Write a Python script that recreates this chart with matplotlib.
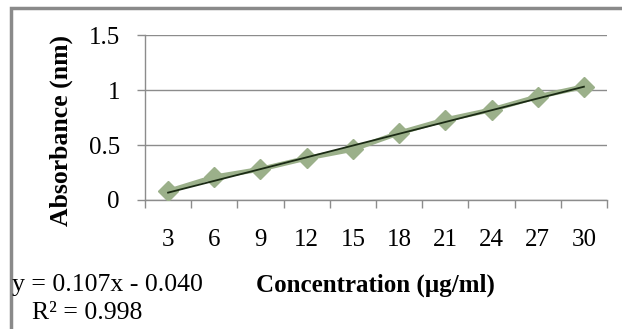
import matplotlib
matplotlib.use("Agg")
from matplotlib import pyplot as plt
from matplotlib.patches import Rectangle
import numpy as np

# calibration data
concentration = [3, 6, 9, 12, 15, 18, 21, 24, 27, 30]
absorbance = [0.08, 0.21, 0.28, 0.38, 0.46, 0.61, 0.73, 0.82, 0.94, 1.03]
slope = 0.107
intercept = -0.040
r_squared = 0.998
y_ticks = [0, 0.5, 1, 1.5]

plt.rcParams['font.family'] = ['Liberation Serif', 'DejaVu Serif']

fig = plt.figure(figsize=(6.22, 3.29), dpi=100)
fig.patch.set_facecolor('white')
ax = fig.add_axes([0.2331, 0.3921, 0.9759 - 0.2331, 0.8936 - 0.3921])

grid_col = '#8c8c8c'
idx = np.arange(1, len(concentration) + 1)

ax.plot(idx, absorbance, color='#9bb08a', lw=3.5, marker='D', ms=10,
        markerfacecolor='#9bb08a', markeredgecolor='#9bb08a', zorder=3)
trend = slope * idx + intercept
ax.plot(idx, trend, color='#1a2a14', lw=1.3, zorder=4)

ax.set_xlim(0.5, len(concentration) + 0.5)
ax.set_ylim(0, 1.5)
ax.set_yticks(y_ticks)
ax.set_yticklabels(['0', '0.5', '1', '1.5'])
ax.yaxis.grid(True, color=grid_col, lw=1)
ax.set_axisbelow(True)

ax.set_xticks(np.arange(0.5, len(concentration) + 1, 1))
ax.set_xticklabels([])
ax.set_xticks(idx, minor=True)
ax.set_xticklabels([str(c) for c in concentration], minor=True)
ax.tick_params(axis='x', which='major', length=6, color=grid_col, width=1)
ax.tick_params(axis='x', which='minor', length=0, pad=21, labelsize=18)
ax.tick_params(axis='y', length=6, color=grid_col, width=1, pad=12, labelsize=18)

for s in ['top', 'right']:
    ax.spines[s].set_visible(False)
for s in ['left', 'bottom']:
    ax.spines[s].set_color(grid_col)
    ax.spines[s].set_linewidth(1)

fig.text(0.604, 0.134, 'Concentration (\u00b5g/ml)', fontsize=18,
         fontweight='bold', ha='center', va='center')
fig.text(0.098, 0.602, 'Absorbance (nm)', fontsize=18.5, fontweight='bold',
         rotation=90, ha='center', va='center')
fig.text(0.02, 0.134, 'y = %.3fx - %.3f' % (slope, abs(intercept)),
         fontsize=18.5, ha='left', va='center')
fig.text(0.052, 0.049, 'R\u00b2 = %.3f' % r_squared,
         fontsize=18.5, ha='left', va='center')

fig.patches.append(Rectangle((11 / 622, -0.1), 1.2, 1 - 8 / 329 + 0.1,
                             transform=fig.transFigure, fill=False,
                             edgecolor='#8a8a8a', lw=2.5))

fig.savefig('out.png', dpi=100)
